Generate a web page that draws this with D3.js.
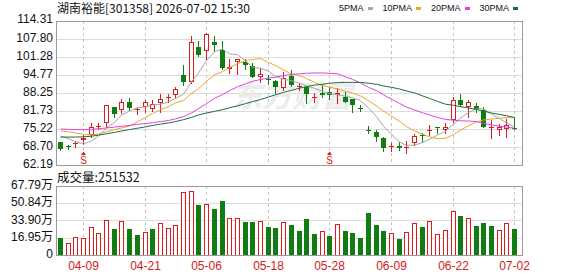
<!DOCTYPE html>
<html>
<head>
<meta charset="utf-8">
<script src="https://cdn.jsdelivr.net/npm/d3@7"></script>
<style>
  body { margin: 0; background: #fff; }
  svg { display: block; }
  text { font-family: Arial, "Liberation Sans", "Noto Sans CJK SC", sans-serif; }
</style>
</head>
<body>
<div id="wrapper"></div>
<script>
// 1. Data

const dates = ['04-03', '04-07', '04-08', '04-09', '04-10', '04-13', '04-14', '04-15', '04-16', '04-17',
  '04-20', '04-21', '04-22', '04-23', '04-24', '04-27', '04-28', '04-29', '04-30', '05-06',
  '05-07', '05-08', '05-11', '05-12', '05-13', '05-14', '05-15', '05-18', '05-19', '05-20',
  '05-21', '05-22', '05-25', '05-26', '05-27', '05-28', '05-29', '06-01', '06-02', '06-03',
  '06-04', '06-05', '06-08', '06-09', '06-10', '06-11', '06-12', '06-15', '06-16', '06-17',
  '06-18', '06-22', '06-23', '06-24', '06-25', '06-26', '06-29', '06-30', '07-01', '07-02'];

const opens = [70.4, 68.9, 70.1, 71.4, 73.05, 75.9, 77.3, 83.1, 82.1, 85.0,
  82.4, 83.1, 82.3, 84.5, 86.3, 87.6, 94.8, 92.4, 104.8, 103.6,
  106.8, 103.8, 96.9, 99.5, 99.6, 98.0, 94.2, 93.4, 92.6, 89.9,
  94.4, 90.3, 90.3, 86.4, 88.4, 88.7, 87.5, 86.9, 86.0, 82.8,
  74.7, 74.0, 71.8, 68.9, 69.2, 68.5, 70.3, 72.9, 74.6, 75.9,
  74.9, 78.5, 85.7, 83.1, 83.5, 82.1, 75.5, 74.9, 75.1, 75.7];
const highs = [70.6, 69.4, 70.9, 73.0, 77.3, 77.3, 83.8, 83.3, 86.0, 86.3,
  83.1, 85.7, 85.7, 87.9, 87.9, 90.3, 98.4, 108.9, 107.2, 109.9,
  108.9, 107.2, 100.4, 100.7, 100.4, 99.2, 97.2, 94.8, 93.0, 96.0,
  96.6, 91.8, 90.5, 88.1, 91.1, 90.5, 89.9, 88.7, 86.0, 83.9,
  76.3, 74.9, 72.4, 70.3, 70.4, 71.0, 73.4, 73.9, 76.7, 76.0,
  77.5, 86.9, 87.9, 85.7, 84.5, 83.1, 78.5, 77.0, 78.7, 79.4];
const lows = [67.6, 67.9, 68.8, 69.8, 72.2, 75.1, 75.8, 79.7, 80.9, 82.1,
  80.7, 81.5, 81.9, 81.5, 85.1, 86.9, 91.1, 91.8, 101.6, 100.4,
  103.6, 96.8, 95.4, 95.0, 96.8, 93.9, 92.4, 91.5, 88.4, 89.3,
  90.8, 89.3, 84.5, 85.1, 86.7, 86.0, 84.5, 85.0, 81.5, 81.9,
  73.9, 71.0, 67.4, 67.4, 67.6, 66.7, 69.4, 70.6, 73.05, 73.9,
  73.7, 77.9, 83.5, 79.4, 81.5, 75.8, 71.8, 73.05, 72.2, 75.1];
const closes = [67.9, 68.8, 70.3, 71.8, 75.8, 76.2, 83.8, 80.5, 85.1, 82.7,
  82.6, 85.1, 84.2, 86.1, 86.7, 89.6, 92.4, 106.6, 102.0, 109.6,
  105.6, 97.2, 97.8, 100.4, 98.4, 94.2, 95.1, 93.0, 90.5, 93.6,
  91.1, 90.7, 87.9, 86.8, 87.5, 87.4, 88.4, 85.1, 83.9, 82.6,
  74.5, 72.2, 68.2, 69.2, 68.2, 68.7, 72.7, 72.6, 75.0, 75.7,
  75.8, 85.7, 83.9, 85.0, 82.3, 76.0, 75.8, 76.1, 76.7, 75.3];

// volume in 万 (10k lots)
const volumes = [16.7, 11.5, 17.4, 16.7, 27.2, 21.3, 34.1, 25.5, 33.1, 25.5,
  19.6, 22.6, 25.5, 31.4, 26.5, 29.1, 61.9, 62.9, 49.1, 50.1,
  45.2, 53.1, 36.0, 36.0, 32.7, 32.7, 33.4, 27.2, 26.2, 32.1,
  29.5, 23.9, 35.4, 20.6, 23.6, 18.7, 30.1, 23.9, 21.6, 16.7,
  41.6, 29.5, 23.9, 21.3, 15.4, 22.3, 31.1, 27.2, 33.1, 20.3,
  24.6, 43.2, 38.3, 36.0, 28.5, 31.4, 28.5, 24.6, 31.4, 25.15];
// 1 = red (up) bar, 0 = green (down) bar
const volUp = [0, 1, 1, 1, 1, 1, 1, 0, 1, 0,
  0, 1, 0, 1, 1, 1, 1, 1, 0, 1,
  0, 0, 1, 1, 0, 0, 1, 0, 0, 1,
  0, 0, 0, 0, 1, 0, 1, 0, 0, 0,
  0, 0, 0, 1, 0, 1, 1, 0, 1, 1,
  1, 1, 0, 1, 0, 0, 0, 1, 1, 0];

const ma5 = [72.7, 71.7, 70.6, 69.8, 70.9, 72.6, 75.6, 77.6, 80.3, 81.7,
  82.9, 83.2, 83.9, 84.2, 85.0, 86.3, 87.8, 92.3, 95.5, 100.0,
  103.2, 104.2, 102.4, 102.1, 99.9, 97.6, 97.2, 96.2, 94.2, 93.3,
  92.7, 91.8, 90.8, 90.0, 88.8, 88.1, 87.6, 87.1, 86.5, 85.5,
  82.9, 79.7, 76.3, 73.3, 70.5, 69.3, 69.4, 70.3, 71.5, 73.0,
  74.4, 77.0, 79.2, 81.2, 82.5, 82.5, 80.6, 79.0, 77.4, 76.0];
const ma10 = [74.5, 74.2, 73.8, 73.3, 73.0, 73.4, 74.2, 75.0, 75.6, 76.3,
  77.8, 79.4, 80.8, 82.2, 83.3, 84.7, 85.5, 88.1, 89.8, 92.5,
  94.8, 96.0, 97.4, 98.8, 100.0, 100.4, 100.7, 99.3, 98.2, 96.6,
  95.1, 94.5, 93.5, 92.1, 91.0, 90.4, 89.7, 88.9, 88.3, 87.2,
  85.5, 83.6, 81.7, 79.9, 78.0, 76.1, 74.5, 73.3, 72.4, 71.7,
  71.9, 73.2, 74.8, 76.4, 77.8, 78.5, 78.8, 79.1, 79.3, 79.3];
const ma20 = [75.2, 75.1, 75.0, 75.0, 75.1, 75.3, 75.6, 75.9, 76.2, 76.5,
  76.9, 77.2, 77.5, 77.9, 78.3, 78.9, 79.7, 81.0, 82.6, 84.4,
  86.3, 87.7, 89.1, 90.5, 91.6, 92.5, 93.1, 93.7, 94.0, 94.5,
  95.0, 95.2, 95.4, 95.5, 95.5, 95.4, 95.2, 94.1, 93.2, 91.9,
  90.3, 89.1, 87.6, 86.0, 84.5, 83.2, 82.1, 81.1, 80.3, 79.4,
  78.7, 78.4, 78.2, 78.1, 77.9, 77.3, 76.7, 76.2, 75.9, 75.5];
const ma30 = [72.3, 72.3, 72.3, 72.4, 72.6, 73.0, 73.5, 74.0, 74.5, 75.0,
  75.5, 76.0, 76.5, 77.0, 77.4, 77.9, 78.6, 79.4, 80.3, 81.0,
  81.6, 82.2, 82.9, 83.6, 84.4, 85.1, 85.9, 86.8, 87.6, 88.5,
  89.2, 90.0, 90.6, 91.1, 91.4, 91.8, 92.0, 92.1, 92.1, 92.1,
  91.8, 91.4, 90.8, 90.3, 89.7, 89.0, 88.3, 87.2, 86.3, 85.2,
  84.2, 83.8, 83.3, 82.8, 82.3, 81.7, 81.0, 80.5, 80.0, 79.4];

const maNames = ['5PMA', '10PMA', '20PMA', '30PMA'];
const maColors = ['#a6a6a6', '#e8a72a', '#e43fe4', '#1f6b3f'];

const priceTicks = [114.31, 107.80, 101.28, 94.77, 88.25, 81.73, 75.22, 68.70, 62.19];
const volTicks = [67.79, 50.84, 33.90, 16.95, 0];
const volTickLabels = ['67.79万', '50.84万', '33.90万', '16.95万', '0'];
const dateTicks = ['04-09', '04-21', '05-06', '05-18', '05-28', '06-09', '06-22', '07-02'];
const signalDates = ['04-09', '05-28'];

const title = '湖南裕能[301358] 2026-07-02 15:30';
const volTitle = '成交量:251532';

// 2. Dimensions

const dimensions = {
  width: 578,
  height: 276,
  left: 56,
  right: 522,
  priceTop: 21,
  priceBottom: 165,
  volTop: 186,
  volBottom: 255,
};

const red = '#e01b1b';
const green = '#117c11';

// 3. Canvas

const svg = d3.select('#wrapper')
  .append('svg')
  .attr('width', dimensions.width)
  .attr('height', dimensions.height)
  .style('shape-rendering', 'crispEdges');

// 4. Scales

const xScale = d3.scaleBand()
  .domain(dates)
  .range([dimensions.left, 518]);
const cx = (d) => Math.round(xScale(d) + xScale.bandwidth() / 2);

const yPrice = d3.scaleLinear()
  .domain([62.19, 114.31])
  .range([dimensions.priceBottom, dimensions.priceTop]);

const yVol = d3.scaleLinear()
  .domain([0, 67.79])
  .range([dimensions.volBottom, dimensions.volTop]);

const px = (v) => Math.round(v) + 0.5;

// 5. Grid and frames

const grid = svg.append('g');
grid.selectAll('.hp')
  .data(priceTicks.slice(1, -1))
  .join('line')
  .attr('x1', dimensions.left).attr('x2', dimensions.right)
  .attr('y1', (d) => px(yPrice(d))).attr('y2', (d) => px(yPrice(d)))
  .attr('stroke', '#dcdcdc');
grid.selectAll('.hv')
  .data(volTicks.slice(1, -1))
  .join('line')
  .attr('x1', dimensions.left).attr('x2', dimensions.right)
  .attr('y1', (d) => px(yVol(d))).attr('y2', (d) => px(yVol(d)))
  .attr('stroke', '#dcdcdc');

[[dimensions.priceTop, dimensions.priceBottom], [dimensions.volTop, dimensions.volBottom]].forEach(([t, b]) => {
  grid.selectAll(null)
    .data(dateTicks)
    .join('line')
    .attr('x1', (d) => cx(d) + 0.5).attr('x2', (d) => cx(d) + 0.5)
    .attr('y1', t).attr('y2', b)
    .attr('stroke', '#c4c4c4')
    .attr('stroke-dasharray', '3,3');
});

// watermark
svg.append('text')
  .attr('x', 232)
  .attr('y', 107)
  .attr('font-size', 30)
  .attr('font-weight', 'bold')
  .attr('font-style', 'italic')
  .attr('fill', '#ececec')
  .style('font-family', '"Noto Sans CJK SC", sans-serif')
  .text('东方财富');

// 6. Candles

const idx = d3.range(dates.length);
const candles = svg.append('g').selectAll('g')
  .data(idx)
  .join('g');

candles.append('line')
  .attr('x1', (i) => cx(dates[i]) + 0.5)
  .attr('x2', (i) => cx(dates[i]) + 0.5)
  .attr('y1', (i) => Math.round(yPrice(highs[i])))
  .attr('y2', (i) => Math.round(yPrice(lows[i])) + 1)
  .attr('stroke', (i) => (closes[i] >= opens[i] ? red : green));

candles.append('rect')
  .each(function (i) {
    const up = closes[i] >= opens[i];
    const top = Math.round(yPrice(Math.max(opens[i], closes[i])));
    const bot = Math.round(yPrice(Math.min(opens[i], closes[i])));
    const h = Math.max(bot - top, 1);
    const x = cx(dates[i]);
    const r = d3.select(this);
    if (up && h > 2) {
      r.attr('x', x - 1.5).attr('y', top + 0.5).attr('width', 4).attr('height', h - 1)
        .attr('fill', '#fff').attr('stroke', red);
    } else {
      r.attr('x', x - 2).attr('y', top).attr('width', 5).attr('height', h)
        .attr('fill', up ? red : green);
    }
  });

// moving averages
const maSeries = [ma5, ma10, ma20, ma30];
const lineGen = d3.line()
  .x((d, i) => cx(dates[i]) + 0.5)
  .y((d) => yPrice(d));
svg.append('g').selectAll('path')
  .data(maSeries)
  .join('path')
  .attr('d', lineGen)
  .attr('fill', 'none')
  .attr('stroke', (d, k) => maColors[k])
  .attr('stroke-width', 1)
  .style('shape-rendering', 'auto');

// signal markers
const sig = svg.append('g').selectAll('g')
  .data(signalDates)
  .join('g')
  .attr('transform', (d) => `translate(${cx(d) + 0.5},0)`);
sig.append('path')
  .attr('d', 'M0,151.5 L-2.5,155 L2.5,155 Z')
  .attr('fill', red)
  .style('shape-rendering', 'auto');
sig.append('text')
  .attr('y', 164)
  .attr('text-anchor', 'middle')
  .attr('font-size', 10)
  .attr('fill', red)
  .text('S');

// 7. Volume bars

svg.append('g').selectAll('rect')
  .data(idx)
  .join('rect')
  .each(function (i) {
    const x = cx(dates[i]);
    const top = Math.round(yVol(volumes[i]));
    const r = d3.select(this);
    if (volUp[i]) {
      r.attr('x', x - 1.5).attr('y', top + 0.5).attr('width', 4)
        .attr('height', dimensions.volBottom - top - 0.5)
        .attr('fill', '#fff').attr('stroke', red);
    } else {
      r.attr('x', x - 2).attr('y', top).attr('width', 5)
        .attr('height', dimensions.volBottom - top)
        .attr('fill', green);
    }
  });

// frames on top
[[dimensions.priceTop, dimensions.priceBottom], [dimensions.volTop, dimensions.volBottom]].forEach(([t, b]) => {
  svg.append('rect')
    .attr('x', dimensions.left + 0.5)
    .attr('y', t + 0.5)
    .attr('width', dimensions.right - dimensions.left)
    .attr('height', b - t)
    .attr('fill', 'none')
    .attr('stroke', '#9a9a9a');
});

// 8. Peripherals

const labels = svg.append('g').attr('font-size', 12).attr('fill', '#111');
labels.selectAll('.pl')
  .data(priceTicks)
  .join('text')
  .attr('x', 53)
  .attr('y', (d, i) => (i === 0 ? 18.5 : yPrice(d) - 1))
  .attr('dy', '0.35em')
  .attr('text-anchor', 'end')
  .text((d) => d.toFixed(2));

labels.selectAll('.vl')
  .data(volTicks)
  .join('text')
  .attr('x', 53)
  .attr('y', (d) => yVol(d) - 1)
  .attr('dy', '0.35em')
  .attr('text-anchor', 'end')
  .text((d, i) => volTickLabels[i]);

svg.append('g').selectAll('text')
  .data(dateTicks)
  .join('text')
  .attr('x', (d) => cx(d) + 0.5)
  .attr('y', 270)
  .attr('text-anchor', 'middle')
  .attr('font-size', 12)
  .attr('fill', '#d42020')
  .text((d) => d);

svg.append('text')
  .attr('x', 57)
  .attr('y', 13)
  .attr('font-size', 12)
  .attr('fill', '#111')
  .style('font-family', '"Noto Sans CJK SC", sans-serif')
  .text(title);

svg.append('text')
  .attr('x', 57)
  .attr('y', 182)
  .attr('font-size', 12.5)
  .attr('fill', '#111')
  .style('font-family', '"Noto Sans CJK SC", sans-serif')
  .text(volTitle);

// legend
let lx = 339;
maNames.forEach((name, k) => {
  const t = svg.append('text')
    .attr('x', lx)
    .attr('y', 11)
    .attr('font-size', 9)
    .attr('fill', '#111')
    .text(name);
  lx += t.node().getComputedTextLength() + 4;
  svg.append('rect')
    .attr('x', lx).attr('y', 6.5)
    .attr('width', 5).attr('height', 3)
    .attr('fill', maColors[k]);
  lx += 15;
});
</script>
</body>
</html>
